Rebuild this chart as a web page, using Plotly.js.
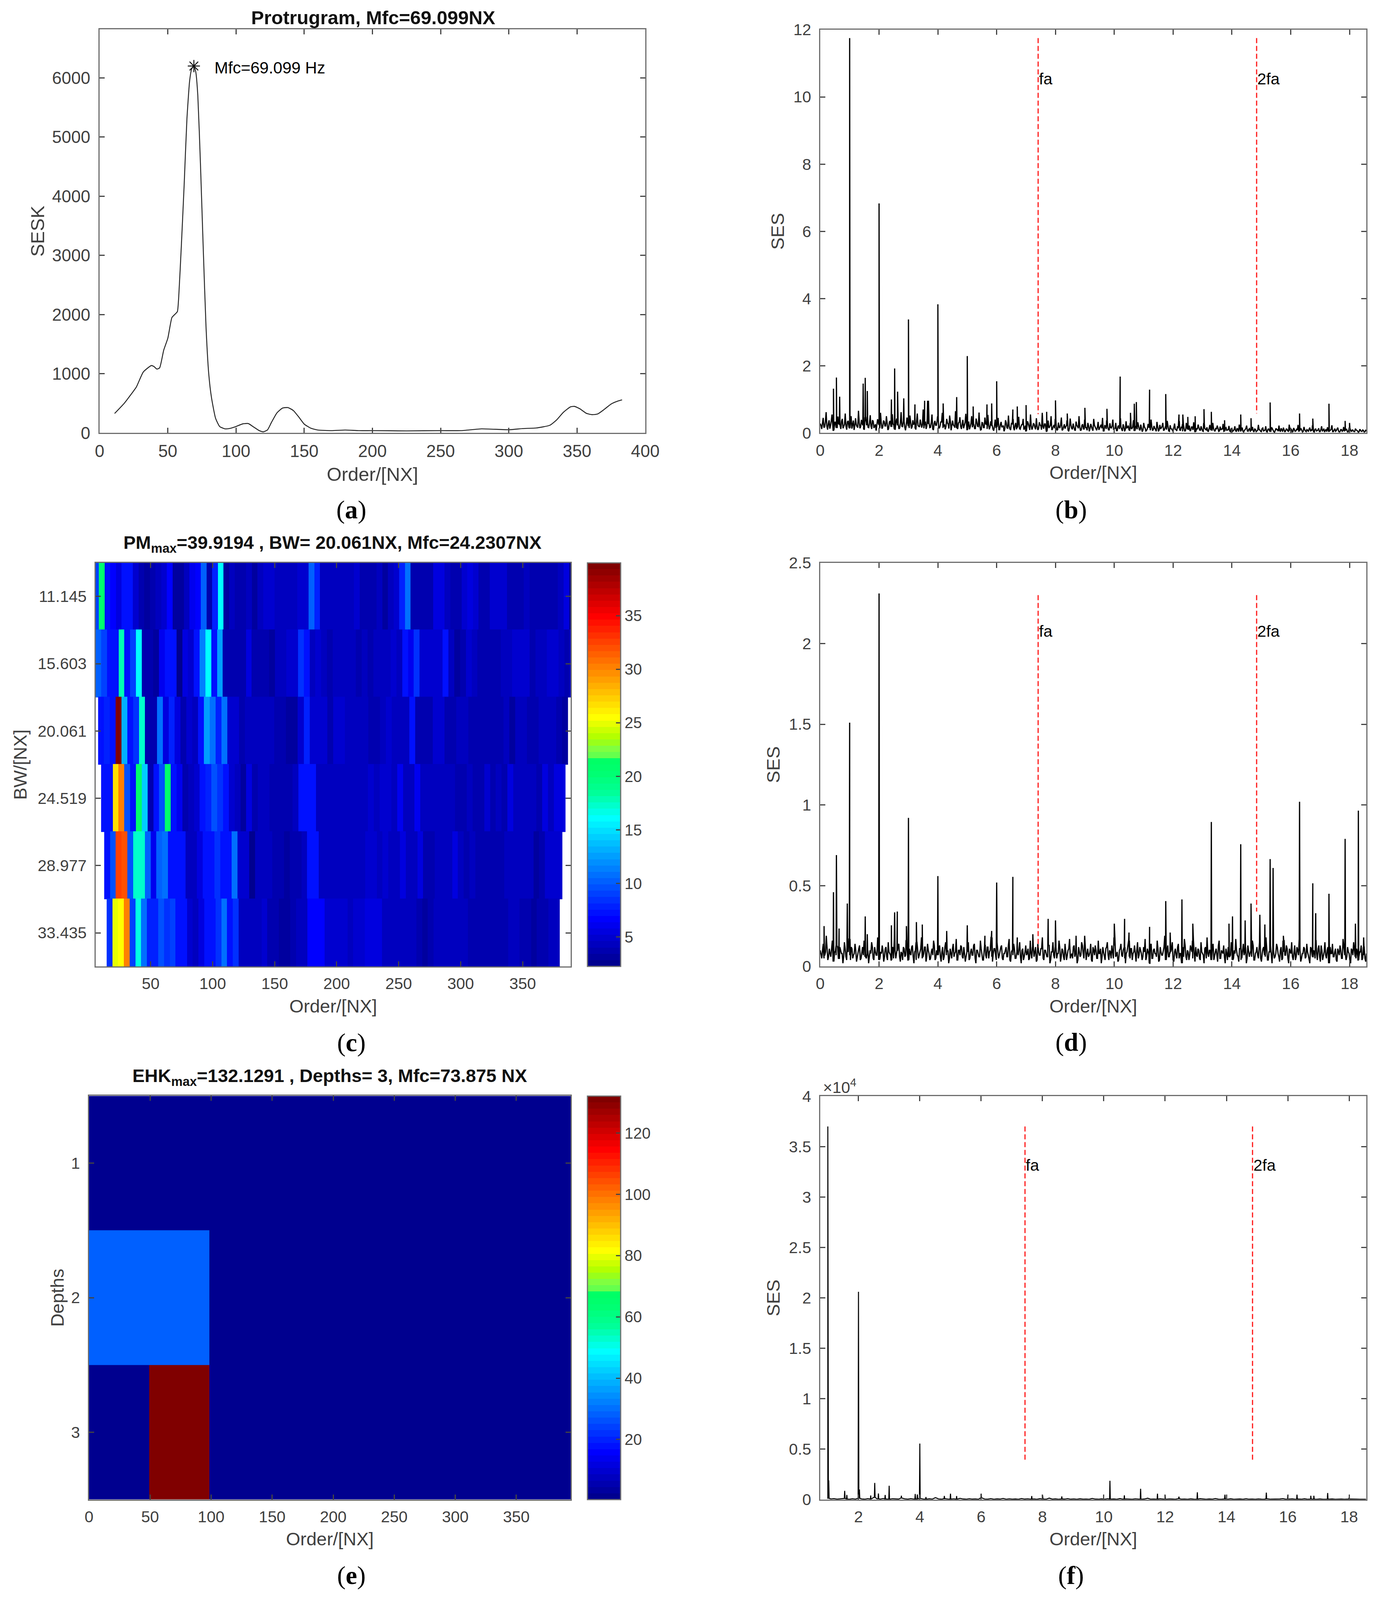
<!DOCTYPE html>
<html><head><meta charset="utf-8">
<script src="https://cdn.plot.ly/plotly-3.0.1.min.js"></script>
<style>html,body{margin:0;padding:0;background:#fff;overflow:hidden}</style>
</head><body><div id="chart"></div>
<script>
// ---------- (a) protrugram ----------
const protoOrder=[11,18,22,27,32,38,40,42,44,47,50,53,55,57,58,60,62,64,66,67.5,69.1,70.5,72,74,76,78,80,82,85,88,92,96,100,105,109,113,117,120,123,126,130,134,138,142,146,150,155,160,170,180,190,200,225,250,265,280,300,310,320,330,335,340,345,348,352,357,361,365,370,375,380,383];
const protoSESK=[330,500,620,780,1030,1140,1120,1080,1100,1400,1600,1950,2000,2050,2300,3200,4200,5300,5950,6150,6200,6100,5700,4500,3100,1800,1000,600,250,110,70,80,110,155,160,100,40,20,50,180,340,420,430,380,270,150,80,50,40,50,40,40,35,40,40,70,55,75,85,130,220,350,440,450,410,330,310,320,400,490,540,560];
const protoPeak={order:69.099,value:6200};

// ---------- (b) SES ----------
const sesBNoise=[.28,.12,.45,.18,.62,.1,.38,.22,.55,.08,.33,.17,.49,.25,.12,.42,.2,.58,.1,.36,
.15,.5,.28,.09,.44,.19,.66,.14,.39,.23,.1,.47,.3,.16,.53,.12,.35,.2,.07,.41,
.26,.6,.13,.37,.21,.5,.09,.32,.18,.56,.24,.11,.43,.28,.15,.62,.19,.34,.08,.46,
.22,.52,.13,.38,.27,.1,.58,.2,.4,.16,.7,.25,.12,.44,.3,.17,.55,.09,.36,.23,
.48,.14,.33,.6,.19,.11,.42,.26,.52,.08,.37,.21,.65,.15,.3,.47,.12,.39,.24,.57,
.1,.34,.18,.5,.27,.13,.43,.2,.61,.09,.31,.16,.46,.25,.54,.11,.35,.22,.07,.4,
.18,.45,.1,.33,.2,.05,.38,.15,.52,.12,.28,.4,.08,.3,.17,.48,.11,.25,.42,.14,
.06,.35,.2,.55,.1,.29,.16,.44,.09,.32,.22,.6,.13,.27,.05,.37,.18,.5,.12,.24,
.4,.08,.31,.15,.46,.1,.26,.19,.36,.05,.43,.14,.28,.09,.34,.2,.5,.07,.23,.12,
.38,.16,.3,.05,.27,.11,.42,.18,.08,.33,.14,.25,.45,.06,.21,.36,.1,.29,.15,.4,
.12,.3,.07,.22,.42,.1,.26,.05,.35,.16,.09,.28,.13,.38,.06,.2,.32,.1,.25,.04,
.3,.14,.08,.27,.18,.4,.07,.21,.11,.33,.05,.24,.15,.3,.09,.19,.36,.06,.23,.12,
.04,.28,.1,.2,.34,.07,.16,.26,.05,.3,.12,.22,.08,.18,.32,.04,.14,.25,.09,.2,
.06,.28,.11,.17,.04,.24,.1,.3,.07,.15,.22,.05,.19,.12,.27,.06,.16,.09,.21,.04,
.14,.07,.2,.04,.12,.25,.06,.16,.03,.1,.22,.05,.13,.08,.18,.03,.11,.06,.24,.09,
.04,.15,.07,.2,.03,.12,.05,.17,.08,.02,.14,.1,.22,.04,.09,.16,.03,.12,.06,.19,
.08,.03,.15,.05,.11,.24,.07,.13,.03,.18,.06,.1,.04,.16,.09,.21,.03,.12,.07,.14,
.04,.2,.08,.03,.11,.17,.05,.09,.23,.04,.13,.07,.16,.03,.1,.05,.18,.08,.12,.03,
.15,.06,.1,.04,.13,.07,.02,.11,.05,.09,.03,.08];
const sesBBand=[.22,.3,.16,.34,.2,.27,.13,.36,.24,.18,.31,.15,.28,.22,.35,.14,.26,.2,.33,.17,
.29,.13,.37,.21,.25,.16,.32,.19,.28,.12,.35,.23,.17,.3,.2,.38,.15,.26,.22,.31,
.14,.29,.18,.34,.21,.25,.13,.36,.19,.27,.16,.33,.23,.12,.3,.2,.35,.17,.24,.28,
.15,.32,.19,.26,.13,.37,.22,.18,.3,.25,.14,.34,.2,.27,.16,.31,.12,.29,.23,.36,
.17,.21,.33,.15,.26,.19,.3,.13,.35,.22,.24,.16,.28,.12,.32,.2,.26,.14,.31,.18,
.23,.11,.29,.17,.25,.13,.33,.19,.22,.1,.3,.16,.27,.12,.24,.18,.31,.11,.21,.15,
.28,.1,.25,.17,.22,.12,.3,.14,.2,.09,.27,.16,.23,.11,.29,.13,.19,.25,.1,.22,
.15,.28,.09,.21,.17,.26,.11,.2,.13,.24,.1,.18,.27,.12,.2,.15,.23,.09,.19,.14,
.21,.1,.17,.25,.08,.2,.13,.22,.09,.16,.24,.11,.19,.07,.22,.14,.18,.09,.26,.12,
.16,.08,.21,.13,.19,.07,.23,.11,.17,.09,.2,.14,.06,.22,.12,.18,.08,.16,.21,.1,
.14,.07,.2,.12,.17,.06,.19,.1,.15,.22,.08,.13,.18,.06,.16,.11,.2,.08,.14,.09,
.18,.06,.13,.16,.08,.19,.1,.14,.05,.17,.09,.12,.2,.07,.15,.1,.18,.05,.13,.08,
.16,.11,.06,.14,.09,.17,.05,.12,.08,.15,.1,.06,.18,.09,.13,.05,.11,.16,.07,.12,
.05,.14,.09,.06,.16,.1,.07,.13,.05,.11,.15,.06,.09,.12,.05,.14,.08,.1,.06,.13,
.05,.1,.07,.13,.04,.09,.12,.05,.08,.14,.06,.11,.04,.09,.06,.12,.04,.08,.1,.05,
.13,.06,.09,.04,.11,.07,.05,.12,.04,.08,.1,.05,.07,.14,.04,.09,.06,.11,.05,.08,
.12,.04,.1,.06,.09,.04,.13,.07,.05,.1,.04,.08,.12,.05,.07,.04,.11,.06,.09,.04,
.1,.05,.13,.07,.04,.09,.06,.11,.04,.08,.05,.12,.06,.04,.1,.07,.05,.09,.04,.08,
.11,.05,.07,.04,.09,.06,.04,.08,.05,.07,.04,.06];
const sesBPeakX=[.45,.55,.66,1,1.46,1.53,1.6,2,2.42,2.53,2.63,2.84,3,3.22,3.55,3.65,3.68,4,4.18,4.64,5,5.2,5.67,5.83,6,6.55,6.7,7,7.7,8,8.4,9,9.75,10.2,10.55,10.68,10.75,11.2,11.75,12.2,12.33,12.5,12.75,13.05,13.3,13.75,14.3,14.65,15.3,15.95,16.3,16.75,17.3,17.85,18];
const sesBPeakY=[1.32,1.65,1.08,11.75,1.47,1.64,1.25,6.83,1,1.92,1.23,1.03,3.38,.85,.96,.96,.96,3.83,.88,1.07,2.29,.79,.85,.88,1.54,.7,.79,.83,.63,.97,.58,.75,.72,1.68,.6,.87,.92,1.29,1.16,.55,.55,.48,.5,.71,.63,.38,.55,.44,.91,.25,.58,.43,.87,.36,.3];

// ---------- (d) SES ----------
const sesDNoise=[.1,.05,.14,.07,.19,.04,.11,.06,.16,.03,.09,.13,.05,.12,.08,.02,.15,.06,.1,.17,
.04,.11,.07,.14,.03,.09,.13,.05,.12,.16,.06,.08,.02,.1,.15,.05,.12,.07,.18,.04,
.09,.13,.03,.11,.06,.15,.08,.04,.12,.17,.05,.1,.14,.03,.08,.12,.06,.16,.04,.11,
.07,.13,.02,.1,.15,.05,.09,.18,.06,.12,.03,.14,.08,.05,.11,.16,.04,.1,.07,.13,
.03,.12,.06,.15,.09,.02,.11,.05,.14,.08,.17,.04,.1,.13,.06,.12,.03,.09,.15,.05,
.11,.07,.14,.02,.1,.06,.16,.08,.04,.13,.05,.12,.09,.18,.03,.11,.07,.15,.05,.1,
.13,.04,.08,.12,.06,.17,.03,.1,.14,.05,.09,.07,.15,.02,.11,.06,.13,.08,.04,.16,
.05,.12,.09,.03,.14,.07,.11,.18,.04,.1,.06,.13,.02,.09,.15,.05,.12,.08,.16,.03,
.11,.06,.14,.04,.1,.17,.07,.05,.13,.09,.02,.12,.06,.15,.08,.19,.04,.11,.07,.14,
.03,.1,.13,.05,.16,.08,.02,.12,.06,.11,.15,.04,.09,.13,.05,.18,.07,.03,.1,.14,
.06,.12,.02,.09,.16,.05,.11,.08,.13,.03,.15,.07,.1,.04,.12,.17,.06,.09,.02,.14,
.05,.11,.08,.16,.03,.12,.07,.1,.19,.04,.13,.06,.09,.15,.03,.11,.05,.14,.08,.02,
.12,.17,.06,.1,.04,.13,.09,.16,.03,.07,.11,.05,.15,.08,.02,.12,.18,.06,.1,.04,
.14,.07,.11,.03,.16,.05,.09,.13,.02,.08,.12,.06,.15,.04,.1,.17,.07,.03,.11,.05,
.14,.09,.02,.13,.06,.1,.16,.04,.08,.12,.05,.15,.03,.11,.07,.18,.04,.09,.13,.02,
.1,.06,.14,.08,.03,.12,.05,.16,.07,.11,.02,.09,.15,.04,.13,.06,.1,.17,.03,.08,
.12,.05,.14,.07,.02,.11,.06,.09,.16,.04,.13,.03,.1,.07,.15,.05,.12,.02,.08,.14,
.06,.11,.03,.09,.13,.05,.17,.07,.04,.12,.08,.02,.1,.15,.06,.11,.04,.09,.13,.05,.12,.03];
const sesDBand=[.07,.1,.05,.09,.12,.06,.08,.11,.04,.09,.07,.12,.05,.1,.08,.06,.11,.04,.09,.07,
.12,.05,.08,.1,.06,.11,.04,.09,.07,.13,.05,.1,.06,.08,.12,.04,.09,.07,.11,.05,
.08,.1,.06,.12,.04,.09,.07,.11,.05,.1,.08,.13,.06,.09,.04,.11,.07,.1,.05,.08,
.12,.06,.09,.04,.1,.07,.11,.05,.08,.12,.06,.1,.04,.09,.07,.13,.05,.08,.11,.06,
.09,.04,.12,.07,.1,.05,.08,.11,.06,.09,.04,.1,.07,.12,.05,.08,.06,.11,.04,.09,
.07,.13,.05,.1,.08,.06,.11,.04,.09,.07,.12,.05,.1,.06,.08,.11,.04,.09,.07,.12,
.05,.08,.1,.06,.13,.04,.09,.07,.11,.05,.08,.12,.06,.1,.04,.09,.07,.11,.05,.08,
.1,.06,.12,.04,.09,.07,.11,.05,.1,.08,.06,.13,.04,.09,.07,.11,.05,.08,.12,.06,
.1,.04,.09,.07,.11,.05,.08,.12,.06,.1,.04,.09,.07,.13,.05,.11,.08,.06,.09,.04,
.12,.07,.1,.05,.08,.11,.06,.09,.04,.12,.07,.1,.05,.08,.13,.06,.09,.04,.11,.07,
.1,.05,.08,.12,.06,.11,.04,.09,.07,.1,.05,.12,.08,.06,.09,.04,.11,.07,.13,.05,
.1,.08,.06,.11,.04,.09,.07,.12,.05,.1,.06,.08,.11,.04,.09,.07,.12,.05,.08,.1,
.06,.13,.04,.09,.07,.11,.05,.08,.12,.06,.1,.04,.09,.07,.11,.05,.08,.1,.06,.12,
.04,.09,.07,.13,.05,.1,.08,.06,.11,.04,.09,.07,.12,.05,.08,.1,.06,.11,.04,.09,
.07,.12,.05,.1,.08,.06,.13,.04,.09,.07,.11,.05,.08,.12,.06,.1,.04,.09,.07,.11,
.05,.08,.12,.06,.1,.04,.09,.07,.13,.05,.11,.08,.06,.09,.04,.12,.07,.1,.05,.08,
.11,.06,.09,.04,.12,.07,.1,.05,.08,.11,.06,.13,.04,.09,.07,.1,.05,.12,.08,.06,
.09,.04,.11,.07,.1,.05,.12,.08,.06,.09,.04,.11,.07,.1,.05,.08,.06,.09,.04,.07,.05,.08];
const sesDPeakX=[.13,.45,.55,.64,.92,1,1.53,1.6,2,2.42,2.53,2.62,2.93,3,3.27,3.47,4,4.3,5,5.6,5.83,6,6.55,6.7,7.23,7.75,8,8.7,10,10.35,10.5,11.2,11.75,11.9,12.3,12.67,13.3,13.9,14.02,14.3,14.45,14.65,14.95,15.12,15.3,15.4,15.75,16.3,16.75,16.85,17.3,17.85,18.2,18.3,18.48];
const sesDPeakY=[.25,.46,.69,.235,.39,1.51,.31,.2,2.31,.255,.335,.34,.25,.92,.275,.26,.56,.22,.255,.19,.22,.52,.555,.18,.2,.295,.285,.19,.265,.295,.21,.245,.405,.21,.415,.265,.895,.265,.31,.757,.285,.39,.32,.26,.665,.61,.19,1.02,.515,.33,.45,.79,.265,.965,.18];

// ---------- (f) SES ----------
const sesFNoise=[120,60,90,40,70,110,50,30,80,45,130,60,35,90,50,220,70,40,100,55,
30,80,60,45,150,70,40,90,35,60,110,50,30,75,45,190,60,35,85,50,
40,70,30,120,55,35,80,45,60,30,170,50,40,90,30,65,45,110,35,70,
40,55,30,100,45,70,35,60,30,85,50,35,140,40,65,30,55,45,90,35,
60,30,75,40,50,30,110,45,35,65,30,80,40,55,30,95,35,60,45,30,
70,40,30,55,130,35,50,30,75,40,30,60,45,30,90,35,50,30,65,40,
30,85,45,30,55,35,100,40,30,60,35,75,30,45,55,30,80,35,50,30,
60,40,30,70,35,45,30,55,90,30,40,65,30,45,35,75,30,50,40,30,
60,30,45,35,55,30,40,50,30,35,45,30,40,30,35,30];
const sesFPeakX=[1,1.03,1.55,1.62,2,2.03,2.4,2.53,2.65,2.87,3,3.4,3.85,3.92,4,4.2,4.8,5,5.2,6,7.65,8,8.63,10.2,10.67,11.2,11.75,12,12.45,13.05,13.95,15.3,16,16.3,16.75,16.85,17.3,18];
const sesFPeakY=[37000,1900,860,450,20600,1000,400,1650,600,450,1370,380,550,500,5550,250,350,580,350,580,350,480,310,1860,410,1070,580,480,280,720,480,690,480,480,380,380,650,200];

const faOrder=[7.41,14.84];
const faOrderF=[7.43,14.85];
const faLabels=['fa','2fa'];

// ---------- (c) fast kurtogram ----------
const bwValues=[11.145,15.603,20.061,24.519,28.977,33.435];
const bwLabels=['11.145','15.603','20.061','24.519','28.977','33.435'];
const rowStart=[3.7,5.43,7.6,10,12.5,14.5];
const rowEnd=[392,393,386.5,384.4,381.9,379.8];
const pm1=[9,21,7,6.5,5.5,7,7,4.8,3.5,3.3,3.6,4.2,5,6.5,2.9,3,4.5,6,6.5,10,3.8,7.8,16,3.2,4.2,4,4,4.2,3.3,4.2,4.8,4.8,4.2,4.2,4.4,4.6,5,4.8,10,8,4.5,4.4,4.6,4.2,4.4,4.6,4.7,4,3.8,3.8,4.2,3.4,4.3,5,8,10.8,3.5,4,3.5,4,5.3,5.3,4.5,4,3.8,5,5.6,4.7,4,4,4.8,4.8,4.8,4,4,4,4.4,4,3.6,3.6,3.6,3.6,4.5,5.3,2.8];
const pm2=[10,9,7,7.2,18,7,9,16,3.8,3.8,3.2,6,7.5,7,2.7,5.5,4.8,7,11.2,15.8,7.5,12.5,3.8,3.8,3.8,3.8,5.5,4,4,4,3.4,4.6,4.6,5,5,8.5,7,4.2,5,4.2,4,4.2,4.2,4.4,4.2,3.6,4.4,3.6,4.5,4.5,4.5,5,4.4,7,5.8,8.3,4.8,4.8,4.8,4.8,7,4.3,3.2,4,5.2,4.6,4,4,4,4,4.4,4.4,5.2,5.2,5,4,4.6,4.6,4.8,5.2,4.6,3.6,5.2];
const pm3=[7,8,7,39.9,13,7,8.5,17.5,4,4,11,5.5,8,5.5,4,5,4.3,7,12.5,10.5,7.8,11,5,5,4,4.2,4.2,4.6,4.6,4.2,3.6,3.8,3.3,3.3,5,8,5,5,5,4,4.8,4.8,4.2,4.6,4.4,4.6,3.5,3.5,4.4,5,4.2,4.2,4.2,7,3.6,3.6,4,5,5,4,3.6,4.2,4.2,3.8,3.8,3.8,3.8,3.8,3.8,4.2,3,4.6,4.4,4,3.8,4.4,4.4,4.4,3.6,3.2];
const pm4=[7,7,26.8,30.3,9.5,7,21,14.3,3.8,7.5,9.5,20.8,7,6,4,4.2,5,7,8,9.5,8.3,7.5,5,4.4,3.3,5.5,4,4.6,4.4,4,4,4,4,4.2,7,7,7,4.6,4.4,4.2,4.4,4.4,4.4,4.4,4.4,4.4,5,4.4,5,5,4.2,5.8,4.2,4.2,5.8,4.4,4.4,4.4,4.4,4.4,4.4,4,4,4.4,4,4,4.7,3.8,4.4,4,5.3,4.2,4.2,4.2,4.6,4,5.3,4.6,5.3,5.3];
const pm5=[7,9.5,32.6,32,9.5,17.5,17.5,10,5.8,10,10.8,7,7,7,4.2,4.2,5.5,7,7,8.5,7,7,11,4.8,4.8,2.6,4.2,4.2,4.4,4,3.8,3.4,4,4,4.6,7,7,4.4,4.4,4.4,4.4,4.4,4.4,4.4,4.4,5,5,4.2,5,4.4,4.4,5.3,4.4,4.4,5.3,3.7,3.7,4.4,4.4,4.4,5.3,4.4,3.8,4.6,4,4,4,4,4,4.6,4.6,4.6,4.2,4.2,3.2,3.6,4.8,4.8,4.8];
const pm6=[8.5,24.8,25.6,30.3,9,16.5,11,8,8,9.8,8.5,9,7,7.2,5,4.3,5.5,7,7,8.5,10.6,7.5,8.7,4.6,4.6,4.4,4.2,4.8,3.6,4,3.3,3.3,4,4.2,4.6,6.5,6.5,6.4,4.8,4.8,4.8,4.8,4.4,4.8,4.8,5.3,5.3,5.3,4.4,4.4,4.4,4.4,4.4,4.4,3.5,3,3.6,4.6,4.6,4.6,4.6,4.6,4.6,3.8,3.8,3.8,3.8,3.8,3.8,3.8,4.6,4.6,4,4,3.2,4,4,4.4,4.4];
const pmRows=[pm1,pm2,pm3,pm4,pm5,pm6];

// ---------- (e) envelope kurtogram ----------
const depthValues=[1,2,3];
const depthEdges=[.5,1.5,2.5,3.5];
const orderEdges=[0,49.3,98.4,394.5];
const ehk=[[1.5,1.5,1.5],[28,28,1.5],[1.5,132.13,1.5]];

// ---------- 64-level colour map ----------
const jetLevels=['#00008f','#00009f','#0000af','#0000bf','#0000cf','#0000df','#0000ef','#0000ff','#0010ff','#0020ff','#0030ff','#0040ff','#0050ff','#0060ff','#0070ff','#0080ff','#008fff','#009fff','#00afff','#00bfff','#00cfff','#00dfff','#00efff','#00ffff','#00ffe6','#00ffcc','#00ffb3','#00ff99','#00ff8c','#00ff80','#00ff73','#00ff6c','#00ff66','#66ff4d','#80ff40','#99ff1a','#b4ff00','#ccff00','#e6ff00','#ffff00','#ffef00','#ffdf00','#ffcf00','#ffbf00','#ffaf00','#ff9f00','#ff8f00','#ff8000','#ff7000','#ff6000','#ff5000','#ff4000','#ff3000','#ff2000','#ff1000','#ff0000','#ef0000','#df0000','#cf0000','#bf0000','#af0000','#9f0000','#8f0000','#800000'];
const jetScale=[];
jetLevels.forEach((c,i)=>{jetScale.push([i/64,c]);jetScale.push([(i+1)/64,c]);});

// ---------- page geometry: px of the 3551x4364 reference, fitted to the window actually given ----------
const W=3551,REF_H=4364;
const H=Math.min(window.innerHeight||REF_H,REF_H);
const V=H/REF_H;
const chartDiv=document.getElementById('chart');
chartDiv.style.width=W+'px';chartDiv.style.height=H+'px';
const INK='#404040',LINE='#6e6e6e',FONT='"Liberation Sans",Arial,sans-serif',SERIF='"Liberation Serif","Times New Roman",serif';
const boxes={a:[255,1652,80,1181],b:[2100,3498,81,1181],c:[245,1461,1535,2636],d:[2100,3498,1535,2636],e:[228,1461,2989,4090],f:[2100,3498,2990,4090]};
const dx=b=>[b[0]/W,b[1]/W], dy=b=>[1-b[3]/REF_H,1-b[2]/REF_H];
function ax(box,isX,o){
  return Object.assign({domain:isX?dx(box):dy(box),showgrid:false,zeroline:false,showline:true,mirror:'ticks',linecolor:LINE,linewidth:3,
    ticks:'inside',ticklen:13,tickwidth:3,tickcolor:'#444',tickfont:{family:FONT,size:41,color:INK},automargin:false,
    ticklabelstandoff:isX?Math.round(6*V):12},o);
}
const axt=(t,size,standoff)=>({text:t,font:{family:FONT,size:size,color:INK},standoff:standoff});

function spectrum(noise,band,x0,x1,px,py,sh){
  const step=(x1-x0)/(noise.length-1);
  const pts=noise.map((v,i)=>[x0+i*step,v]);
  (band||[]).forEach((v,i)=>pts.push([x0+(i+.5)*step,v]));
  px.forEach((x,i)=>{
    const b=noise[Math.min(noise.length-1,Math.max(0,Math.round((x-x0)/step)))];
    pts.push([x-sh,b],[x,py[i]],[x+sh,b]);
  });
  pts.sort((p,q)=>p[0]-q[0]);
  return {x:pts.map(p=>p[0]),y:pts.map(p=>p[1])};
}
const sb=spectrum(sesBNoise,sesBBand,0,18.55,sesBPeakX,sesBPeakY,.012);
const sd=spectrum(sesDNoise,sesDBand,0,18.55,sesDPeakX,sesDPeakY,.012);
const sf=spectrum(sesFNoise,null,1,18.55,sesFPeakX,sesFPeakY,.012);

const specLine={color:'#000',width:3.1};
const redLine={color:'#ff1a1a',width:3,dash:'13px,7px'};
const data=[];
data.push({type:'scatter',mode:'lines',x:protoOrder,y:protoSESK,xaxis:'x',yaxis:'y',line:{color:'#222',width:2.4,shape:'spline',smoothing:.5},showlegend:false});
data.push({type:'scatter',mode:'markers',x:[protoPeak.order],y:[protoPeak.value],xaxis:'x',yaxis:'y',marker:{symbol:'asterisk-open',size:26,color:'#111',line:{color:'#111',width:2.5}},showlegend:false});
data.push({type:'scatter',mode:'lines',x:sb.x,y:sb.y,xaxis:'x2',yaxis:'y2',line:specLine,showlegend:false});
data.push({type:'scatter',mode:'lines',x:sd.x,y:sd.y,xaxis:'x4',yaxis:'y4',line:specLine,showlegend:false});
data.push({type:'scatter',mode:'lines',x:sf.x,y:sf.y,xaxis:'x6',yaxis:'y6',line:{color:'#000',width:2.6},showlegend:false});
[[faOrder[0],11.75,.56,'2'],[faOrder[1],11.75,.58,'2'],[faOrder[0],2.3,.12,'4'],[faOrder[1],2.3,.34,'4'],[faOrderF[0],37000,3700,'6'],[faOrderF[1],37000,3700,'6']].forEach(r=>{
  data.push({type:'scatter',mode:'lines',x:[r[0],r[0]],y:[r[1],r[2]],xaxis:'x'+r[3],yaxis:'y'+r[3],line:redLine,showlegend:false});
});
const halfBW=(bwValues[1]-bwValues[0])/2;
const seam=.04; // rows overlap by a hair so no pale seam shows between them
pmRows.forEach((row,r)=>{
  const w=(rowEnd[r]-rowStart[r])/row.length;
  const edges=[];for(let i=0;i<=row.length;i++)edges.push(rowStart[r]+i*w);
  data.push({type:'heatmap',x:edges,y:[bwValues[r]-halfBW-seam,bwValues[r]+halfBW],z:[row],xaxis:'x3',yaxis:'y3',coloraxis:'coloraxis'});
});
data.push({type:'heatmap',x:orderEdges,y:depthEdges,z:ehk,xaxis:'x5',yaxis:'y5',coloraxis:'coloraxis2'});

function cb(box,tv){
  return {x:1504/W,xanchor:'left',xref:'paper',thickness:85,thicknessmode:'pixels',xpad:0,ypad:0,
    y:1-box[3]/REF_H,yanchor:'bottom',yref:'paper',len:(box[3]-box[2])/REF_H,lenmode:'fraction',
    outlinecolor:LINE,outlinewidth:3,ticks:'inside',ticklen:13,tickwidth:3,tickcolor:'#444',tickvals:tv,
    tickfont:{family:FONT,size:40,color:INK}};
}
const note=(t,x,y,size,extra)=>Object.assign({text:t,xref:'paper',yref:'paper',x:x/W,y:1-y/REF_H,showarrow:false,xanchor:'center',yanchor:'middle',font:{family:FONT,size:size,color:'#111'}},extra||{});
const dataNote=(t,x,y,ref,size)=>({text:t,xref:'x'+ref,yref:'y'+ref,x:x,y:y,showarrow:false,xanchor:'left',yanchor:'middle',font:{family:FONT,size:size,color:'#000'}});
const panel=(l,x,y)=>note('(<b>'+l+'</b>)',x,y,66,{font:{family:SERIF,size:66,color:'#000'}});

const annotations=[
  note('<b>Protrugram, Mfc=69.099NX</b>',955,48,49),
  note('<b>PM<sub>max</sub>=39.9194 , BW= 20.061NX, Mfc=24.2307NX</b>',851,1483,47),
  note('<b>EHK<sub>max</sub>=132.1291 , Depths= 3, Mfc=73.875 NX</b>',844,2937,47),
  dataNote('Mfc=69.099 Hz',83.6,6170,'',42),
  dataNote(faLabels[0],faOrder[0],10.53,'2',41),dataNote(faLabels[1],faOrder[1],10.53,'2',41),
  dataNote(faLabels[0],faOrder[0],2.075,'4',41),dataNote(faLabels[1],faOrder[1],2.075,'4',41),
  dataNote(faLabels[0],faOrderF[0],33150,'6',41),dataNote(faLabels[1],faOrderF[1],33150,'6',41),
  note('×10<sup>4</sup>',2105,2963,41,{xanchor:'left',font:{family:FONT,size:41,color:INK}}),
  panel('a',899,1390),panel('b',2742,1390),panel('c',899,2844),panel('d',2742,2843),panel('e',899,4297),panel('f',2742,4297)
];

const xT=Math.round(20*V);
const layout={width:W,height:H,margin:{l:0,r:0,t:0,b:0},paper_bgcolor:'#fff',plot_bgcolor:'#fff',showlegend:false,
  coloraxis:{cmin:2.26,cmax:39.92,colorscale:jetScale,colorbar:cb(boxes.c,[5,10,15,20,25,30,35])},
  coloraxis2:{cmin:.36,cmax:132.13,colorscale:jetScale,colorbar:cb(boxes.e,[20,40,60,80,100,120])},
  annotations:annotations,
  xaxis:ax(boxes.a,true,{anchor:'y',range:[0,400],tickvals:[0,50,100,150,200,250,300,350,400],tickfont:{family:FONT,size:44,color:INK},title:axt('Order/[NX]',49,xT)}),
  yaxis:ax(boxes.a,false,{anchor:'x',range:[0,6820],tickvals:[0,1000,2000,3000,4000,5000,6000],tickfont:{family:FONT,size:44,color:INK},title:axt('SESK',49,5)}),
  xaxis2:ax(boxes.b,true,{anchor:'y2',range:[0,18.57],tickvals:[0,2,4,6,8,10,12,14,16,18],title:axt('Order/[NX]',47,xT)}),
  yaxis2:ax(boxes.b,false,{anchor:'x2',range:[0,12],tickvals:[0,2,4,6,8,10,12],title:axt('SES',47,9)}),
  xaxis3:ax(boxes.c,true,{anchor:'y3',range:[5.65,388.7],tickvals:[50,100,150,200,250,300,350],title:axt('Order/[NX]',47,xT)}),
  yaxis3:ax(boxes.c,false,{anchor:'x3',range:[bwValues[5]+halfBW,bwValues[0]-halfBW],tickvals:bwValues,ticktext:bwLabels,title:axt('BW/[NX]',47,13)}),
  xaxis4:ax(boxes.d,true,{anchor:'y4',range:[0,18.57],tickvals:[0,2,4,6,8,10,12,14,16,18],title:axt('Order/[NX]',47,xT)}),
  yaxis4:ax(boxes.d,false,{anchor:'x4',range:[0,2.5],tickvals:[0,.5,1,1.5,2,2.5],ticktext:['0','0.5','1','1.5','2','2.5'],title:axt('SES',47,9)}),
  xaxis5:ax(boxes.e,true,{anchor:'y5',range:[0,394.5],tickvals:[0,50,100,150,200,250,300,350],title:axt('Order/[NX]',47,xT)}),
  yaxis5:ax(boxes.e,false,{anchor:'x5',range:[3.5,.5],tickvals:depthValues,ticktext:['1','2','3'],title:axt('Depths',47,4)}),
  xaxis6:ax(boxes.f,true,{anchor:'y6',range:[.753,18.56],tickvals:[2,4,6,8,10,12,14,16,18],title:axt('Order/[NX]',47,xT)}),
  yaxis6:ax(boxes.f,false,{anchor:'x6',range:[0,40000],tickvals:[0,5000,10000,15000,20000,25000,30000,35000,40000],ticktext:['0','0.5','1','1.5','2','2.5','3','3.5','4'],title:axt('SES',47,9)})
};
layout.annotations[3].xref='x';layout.annotations[3].yref='y';
Plotly.newPlot('chart',data,layout,{displayModeBar:false,responsive:false});
</script></body></html>
